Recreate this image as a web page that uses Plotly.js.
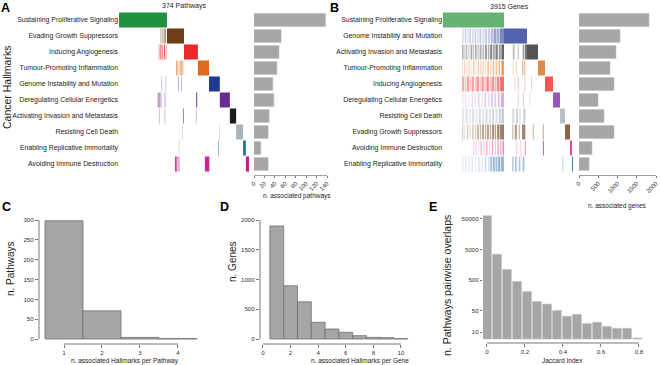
<!DOCTYPE html>
<html><head><meta charset="utf-8">
<script src="https://cdn.plot.ly/plotly-3.0.1.min.js"></script>
<style>html,body{margin:0;padding:0;background:#fff}#chart{width:660px;height:365px}</style>
</head><body><div id="chart"></div>
<script>
// ---------------- DATA ----------------
const rowsA = ['Sustaining Proliferative Signaling','Evading Growth Suppressors','Inducing Angiogenesis','Tumour-Promoting Inflammation','Genome Instability and Mutation','Deregulating Cellular Energetics','Activating Invasion and Metastasis','Resisting Cell Death','Enabling Replicative Immortality','Avoiding Immune Destruction'];
const countsA = [137, 52, 48, 44, 36, 38, 29, 27, 13, 27];
const colorsA = ['#1f9141','#6e3c17','#e82a2b','#e06b1d','#1f3a94','#6c2a94','#1c1c1c','#a8b3bc','#2472a9','#c41f85'];
// pathway-index ranges of the diagonal blocks (374 pathways)
const blocksA = [[0,138],[138,187],[187,227],[227,259],[259,290],[290,319],[319,337],[337,357],[357,365],[365,374]];
// off-diagonal memberships: [row, start, end, intensity]
const stripesA = [
 [2,119,121,.4],[2,123,125,.7],[2,128,130,.4],[2,131,134,.9],
 [3,114,117,.45],[3,119,122,.8],[3,124,127,.5],[3,129,132,.8],[3,134,137,.45],
 [4,165,168,.9],[4,171,174,.45],[4,177,180,.9],[4,182,185,.5],
 [5,122,124,.35],[5,134,136,.35],[5,170,172,.55],[5,179,181,.45],
 [6,111,118,.45],[6,118,123,.3],[6,129,136,.2],[6,222,225,.9],
 [7,115,117,.35],[7,131,133,.35],[7,184,186,.7],[7,221,223,.4],
 [8,182,184,.5],[8,288,290,.6],
 [9,172,174,.3],[9,285,287,.7],
 [10,161,166,.85],[10,166,175,.35],[10,247,260,.95]
];

const rowsB = ['Sustaining Proliferative Signaling','Genome Instability and Mutation','Activating Invasion and Metastasis','Tumour-Promoting Inflammation','Inducing Angiogenesis','Deregulating Cellular Energetics','Resisting Cell Death','Evading Growth Suppressors','Avoiding Immune Destruction','Enabling Replicative Immortality'];
const countsB = [1818, 1065, 960, 805, 909, 494, 650, 909, 338, 260];
const colorsB = ['#67b374','#5363ae','#555555','#e08a4a','#ef5757','#9b57b5','#b9c1c8','#8c6548','#dc4a9c','#4a7fb8'];
// gene-index ranges of the diagonal blocks (3915 genes)
const blocksB = [[0,1837],[1837,2530],[2530,2861],[2861,3072],[3072,3313],[3313,3524],[3524,3675],[3675,3825],[3825,3885],[3885,3915]];
const stripesB = [
 [2,572,640,.18],[2,660,700,.3],[2,720,790,.15],[2,800,840,.35],[2,870,930,.2],[2,950,1000,.3],[2,1020,1080,.18],[2,1100,1150,.35],[2,1180,1250,.22],[2,1270,1320,.4],[2,1350,1420,.3],[2,1440,1500,.45],[2,1520,1600,.6],[2,1610,1700,.5],[2,1710,1837,.75],
 [3,572,620,.45],[3,640,680,.3],[3,700,730,.55],[3,760,800,.25],[3,830,880,.5],[3,900,940,.35],[3,970,1010,.6],[3,1040,1100,.3],[3,1120,1160,.55],[3,1190,1240,.4],[3,1270,1320,.65],[3,1350,1400,.45],[3,1420,1480,.7],[3,1500,1560,.5],[3,1580,1650,.75],[3,1680,1740,.6],[3,1760,1837,.9],[3,2100,2160,.35],[3,2250,2290,.3],[3,2400,2440,.6],[3,2460,2530,.8],
 [4,572,610,.25],[4,640,670,.45],[4,700,740,.2],[4,770,800,.5],[4,840,870,.2],[4,900,950,.4],[4,980,1010,.25],[4,1050,1080,.55],[4,1110,1160,.3],[4,1190,1220,.5],[4,1260,1300,.3],[4,1340,1380,.6],[4,1420,1460,.35],[4,1500,1540,.6],[4,1580,1640,.45],[4,1680,1720,.7],[4,1760,1837,.85],[4,2100,2130,.3],[4,2200,2230,.35],[4,2380,2420,.6],[4,2450,2480,.7],
 [5,572,640,.5],[5,660,700,.3],[5,720,780,.6],[5,800,840,.35],[5,860,930,.55],[5,950,990,.3],[5,1010,1080,.65],[5,1100,1140,.35],[5,1160,1230,.6],[5,1250,1290,.4],[5,1310,1380,.7],[5,1400,1440,.4],[5,1460,1540,.65],[5,1560,1600,.45],[5,1620,1700,.7],[5,1720,1837,.85],[5,2150,2180,.25],[5,2250,2290,.3],[5,2450,2480,.3],[5,2650,2680,.3],
 [6,572,620,.12],[6,660,700,.2],[6,760,800,.12],[6,860,900,.22],[6,950,1000,.15],[6,1050,1100,.25],[6,1150,1200,.15],[6,1250,1300,.3],[6,1350,1400,.2],[6,1450,1500,.35],[6,1550,1600,.3],[6,1650,1700,.4],[6,1740,1837,.45],[6,2250,2290,.2],[6,2400,2440,.25],[6,2600,2630,.2],
 [7,572,640,.35],[7,680,740,.5],[7,780,840,.3],[7,880,940,.55],[7,980,1040,.35],[7,1080,1140,.6],[7,1180,1240,.4],[7,1280,1340,.6],[7,1380,1440,.45],[7,1480,1540,.65],[7,1580,1640,.5],[7,1680,1740,.7],[7,1760,1837,.8],[7,2080,2150,.5],[7,2200,2260,.7],[7,2300,2340,.5],[7,2420,2480,.8],
 [8,572,610,.3],[8,640,670,.2],[8,720,760,.35],[8,800,830,.25],[8,880,920,.4],[8,960,1000,.3],[8,1030,1080,.55],[8,1110,1150,.45],[8,1180,1230,.65],[8,1260,1300,.5],[8,1330,1380,.7],[8,1410,1450,.55],[8,1480,1540,.75],[8,1560,1600,.6],[8,1630,1700,.8],[8,1720,1837,.85],[8,2080,2120,.4],[8,2160,2230,.6],[8,2280,2320,.45],[8,2380,2480,.8],[8,2700,2740,.4],[8,3000,3040,.45],
 [9,904,940,.25],[9,980,1010,.35],[9,1060,1090,.2],[9,1130,1170,.4],[9,1220,1250,.3],[9,1300,1340,.45],[9,1390,1420,.3],[9,1470,1510,.5],[9,1560,1590,.4],[9,1640,1680,.55],[9,1720,1760,.45],[9,1790,1837,.6],[9,2200,2240,.25],[9,2330,2360,.3],[9,2460,2500,.5],[9,3010,3040,.9],
 [10,572,620,.12],[10,660,700,.2],[10,760,800,.15],[10,860,900,.2],[10,960,1000,.15],[10,1060,1100,.25],[10,1160,1200,.2],[10,1260,1300,.3],[10,1360,1400,.25],[10,1420,1480,.45],[10,1500,1560,.55],[10,1580,1640,.5],[10,1660,1720,.6],[10,1740,1837,.55],[10,2080,2130,.4],[10,2170,2220,.5],[10,2280,2330,.45],[10,2400,2450,.5],[10,3600,3620,.5]
];

const hallmarksPerPathway = [1, 2, 3, 4];
const nPathways = [298, 71, 4, 1];
const hallmarksPerGene = [1, 2, 3, 4, 5, 6, 7, 8, 9, 10];
const nGenes = [1900, 895, 625, 280, 168, 112, 56, 28, 22, 6];
const jaccardBins = [0, 0.053, 0.105, 0.158, 0.211, 0.263, 0.316, 0.368, 0.421, 0.474, 0.526, 0.579, 0.632, 0.684, 0.737, 0.79];
const nOverlaps = [64000, 3500, 1115, 452, 213, 101, 83, 51, 33, 38, 19, 21, 15.4, 13.3, 13.3, 6.4];

// ---------------- HELPERS ----------------
const W = 660, H = 365;
const fx = p => p / W;
const fy = p => 1 - p / H;
const FONT = '"Liberation Sans", Arial, Helvetica, sans-serif';
function rgba(hex, a) {
  const r = parseInt(hex.slice(1,3),16), g = parseInt(hex.slice(3,5),16), b = parseInt(hex.slice(5,7),16);
  return `rgba(${r},${g},${b},${a})`;
}
function matrixTrace(blocks, stripes, colors, xa, ya) {
  const y = [], base = [], len = [], col = [];
  blocks.forEach((b, i) => { y.push(i + 1); base.push(b[0]); len.push(b[1] - b[0]); col.push(colors[i]); });
  stripes.forEach(s => { y.push(s[0]); base.push(s[1]); len.push(s[2] - s[1]); col.push(rgba(colors[s[0]-1], s[3])); });
  return {type:'bar', orientation:'h', y:y, x:len, base:base, width:0.94,
          marker:{color:col, line:{width:0}}, xaxis:xa, yaxis:ya, hoverinfo:'skip'};
}
const rowNums = rowsA.map((_, i) => i + 1);
const GREY = '#a6a6a6';
const LOGBASE = 5.9; // bottom of the log-scale bars in panel E

const traces = [
  matrixTrace(blocksA, stripesA, colorsA, 'x', 'y'),
  {type:'bar', orientation:'h', y:rowNums, x:countsA, width:0.8, marker:{color:GREY, line:{color:'#bdbdbd', width:0.6}}, xaxis:'x2', yaxis:'y2', hoverinfo:'skip'},
  matrixTrace(blocksB, stripesB, colorsB, 'x3', 'y3'),
  {type:'bar', orientation:'h', y:rowNums, x:countsB, width:0.8, marker:{color:GREY, line:{color:'#bdbdbd', width:0.6}}, xaxis:'x4', yaxis:'y4', hoverinfo:'skip'},
  {type:'bar', x:hallmarksPerPathway, y:nPathways, width:1, marker:{color:GREY, line:{color:'#707070', width:0.8}}, xaxis:'x5', yaxis:'y5', hoverinfo:'skip'},
  {type:'bar', x:hallmarksPerGene, y:nGenes, width:1, marker:{color:GREY, line:{color:'#707070', width:0.8}}, xaxis:'x6', yaxis:'y6', hoverinfo:'skip'},
  {type:'bar', x:jaccardBins, y:nOverlaps.map(v => v - LOGBASE), base:LOGBASE, width:0.047, marker:{color:GREY, line:{color:'#c4c4c4', width:0.6}}, xaxis:'x7', yaxis:'y7', hoverinfo:'skip'}
];

const hidden = {visible:false, showgrid:false, zeroline:false, fixedrange:true};
const tickAx = (extra) => Object.assign({showgrid:false, zeroline:false, ticks:'outside', ticklen:3, tickwidth:0.8, tickcolor:'#555', tickfont:{size:6.2, color:'#333'}, showline:false, fixedrange:true}, extra);
const rowAx = (labels, dom) => ({domain:dom, range:[10.5,0.5], tickmode:'array', tickvals:rowNums, ticktext:labels, ticks:'', showgrid:false, zeroline:false, showline:false, tickfont:{size:6.9, color:'#222'}, fixedrange:true});

const layout = {
  width:W, height:H, margin:{l:0,r:0,t:0,b:0}, paper_bgcolor:'#fff', plot_bgcolor:'rgba(0,0,0,0)',
  showlegend:false, barmode:'overlay', font:{family:FONT, size:7, color:'#222'},
  xaxis: Object.assign({domain:[fx(119), fx(249)], range:[0,374], anchor:'y'}, hidden),
  yaxis: Object.assign(rowAx(rowsA, [fy(172), fy(12)]), {anchor:'x'}),
  xaxis2: tickAx({domain:[fx(254), fx(327)], range:[0,140], anchor:'y2', tickvals:[0,20,40,60,80,100,120,140], tickangle:-45, ticklen:2, tickfont:{size:6, color:'#333'}, showline:true, linecolor:'#888', linewidth:0.8}),
  yaxis2: Object.assign({domain:[fy(175), fy(12)], range:[10.6875,0.5], anchor:'x2'}, hidden),
  xaxis3: Object.assign({domain:[fx(443), fx(573)], range:[0,3915], anchor:'y3'}, hidden),
  yaxis3: Object.assign(rowAx(rowsB, [fy(172), fy(12)]), {anchor:'x3'}),
  xaxis4: tickAx({domain:[fx(579), fx(656)], range:[0,2000], anchor:'y4', tickvals:[0,500,1000,1500,2000], tickangle:-45, ticklen:2, tickfont:{size:6, color:'#333'}, showline:true, linecolor:'#888', linewidth:0.8}),
  yaxis4: Object.assign({domain:[fy(175), fy(12)], range:[10.6875,0.5], anchor:'x4'}, hidden),
  xaxis5: tickAx({domain:[fx(39), fx(200)], range:[0.342,4.58], anchor:'y5', tickvals:[1,2,3,4]}),
  yaxis5: tickAx({domain:[fy(344), fy(215)], range:[-12.6,312.6], anchor:'x5', tickvals:[0,50,100,150,200,250,300]}),
  xaxis6: tickAx({domain:[fx(260), fx(412)], range:[-0.217,10.8], anchor:'y6', tickvals:[0,2,4,6,8,10]}),
  yaxis6: tickAx({domain:[fy(344), fy(215)], range:[-84,2084], anchor:'x6', tickvals:[0,500,1000,1500,2000]}),
  xaxis7: tickAx({domain:[fx(483), fx(650)], range:[-0.021,0.858], anchor:'y7', tickvals:[0,0.2,0.4,0.6,0.8], ticktext:['0','0.2','0.4','0.6','0.8']}),
  yaxis7: tickAx({domain:[fy(343), fy(213)], type:'log', range:[Math.log10(4.4), Math.log10(78000)], anchor:'x7', tickvals:[10,50,500,5000,50000], ticktext:['10','50','500','5000','50000'], ticklen:2}),
  shapes: [
    {type:'line', xref:'x5', yref:'y5 domain', x0:1, x1:4, y0:0, y1:0, line:{color:'#555', width:0.8}},
    {type:'line', xref:'x5 domain', yref:'y5', x0:0, x1:0, y0:0, y1:300, line:{color:'#555', width:0.8}},
    {type:'line', xref:'x6', yref:'y6 domain', x0:0, x1:10, y0:0, y1:0, line:{color:'#555', width:0.8}},
    {type:'line', xref:'x6 domain', yref:'y6', x0:0, x1:0, y0:0, y1:2000, line:{color:'#555', width:0.8}},
    {type:'line', xref:'x7', yref:'y7 domain', x0:0, x1:0.8, y0:0, y1:0, line:{color:'#555', width:0.8}}
  ],
  annotations: []
};

function ann(text, x, y, size, extra) {
  layout.annotations.push(Object.assign({text:text, x:fx(x), y:fy(y), xref:'paper', yref:'paper', showarrow:false, xanchor:'center', yanchor:'middle', font:{size:size, color:'#222'}}, extra || {}));
}
ann('<b>A</b>', 5, 8, 12.5, {font:{size:12.5, color:'#000'}});
ann('<b>B</b>', 334, 8, 12.5, {font:{size:12.5, color:'#000'}});
ann('<b>C</b>', 6, 207, 12.5, {font:{size:12.5, color:'#000'}});
ann('<b>D</b>', 225, 207, 12.5, {font:{size:12.5, color:'#000'}});
ann('<b>E</b>', 433, 207, 12.5, {font:{size:12.5, color:'#000'}});
ann('374 Pathways', 184, 6, 7);
ann('3915 Genes', 509, 6, 7);
ann('Cancer Hallmarks', 7, 88, 10.5, {textangle:-90});
ann('n. associated pathways', 297, 196, 6.5);
ann('n. associated genes', 617, 206, 6.5);
ann('n. associated Hallmarks per Pathway', 125, 361, 6.5);
ann('n. associated Hallmarks per Gene', 360, 361, 6.5);
ann('Jaccard Index', 562, 360, 6.5);
ann('n. Pathways', 10, 269, 10, {textangle:-90});
ann('n. Genes', 232, 262, 10, {textangle:-90});
ann('n. Pathways pairwise overlaps', 447, 286, 10.5, {textangle:-90});

Plotly.newPlot('chart', traces, layout, {displayModeBar:false, staticPlot:true});
</script></body></html>
